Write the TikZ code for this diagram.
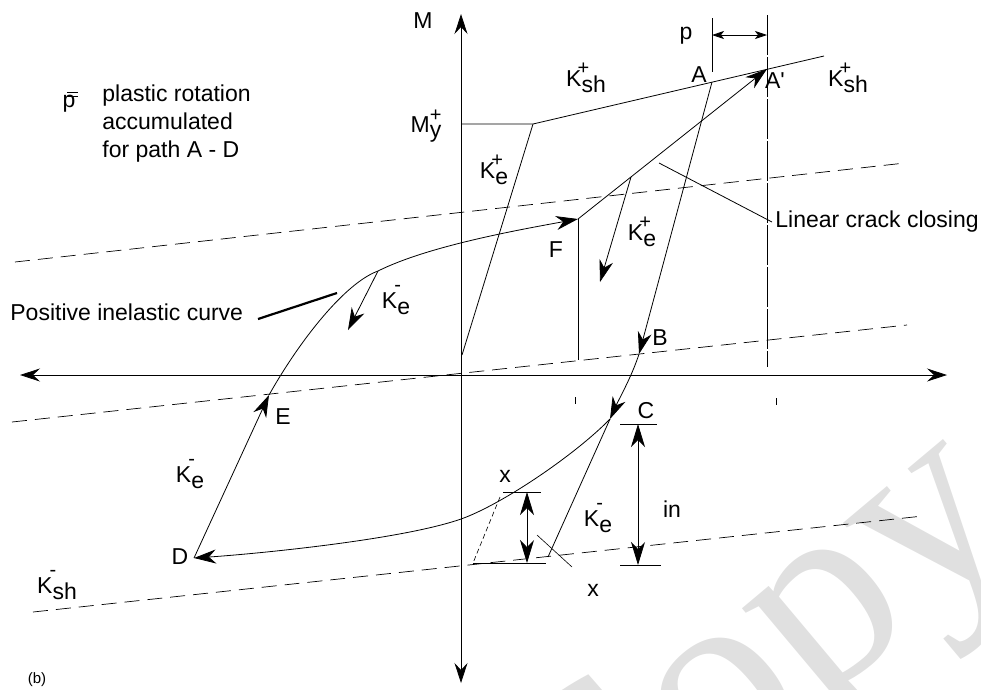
\documentclass[tikz,border=0pt]{standalone}
\usepackage{fontspec}
\setmainfont{Liberation Sans}
\newfontfamily\wmfont{Liberation Serif}
\usetikzlibrary{arrows.meta}
\newcommand\Kp[1]{K\rlap{\kern-4pt\raisebox{12pt}{\fontsize{20}{20}\selectfont +}}\raisebox{-6pt}{#1}}
\newcommand\Km[1]{K\rlap{\kern-3pt\raisebox{17pt}{\fontsize{20}{20}\selectfont -}}\raisebox{-6pt}{#1}}
\begin{document}
\begin{tikzpicture}[x=1pt,y=-1pt,line width=0.8pt,
  lbl/.style={inner sep=0pt,font=\fontsize{23}{28}\selectfont},
  arr/.style={-{Stealth[length=22pt,width=14pt,inset=7pt]}},
  darr/.style={{Stealth[length=23pt,width=14pt,inset=7pt]}-{Stealth[length=23pt,width=14pt,inset=7pt]}},
  axisline/.style={{Stealth[length=20pt,width=13pt,inset=7pt]}-{Stealth[length=20pt,width=13pt,inset=7pt]}},
  parr/.style={{Stealth[length=12pt,width=8pt,inset=3pt]}-{Stealth[length=12pt,width=8pt,inset=3pt]}},
  dsh/.style={dash pattern=on 15pt off 8pt,line width=0.7pt},
  dashdot/.style={dash pattern=on 40pt off 2pt,line width=0.7pt},
  fine/.style={line width=0.6pt}]
\useasboundingbox (0,0) rectangle (981,689);
% watermark
\begin{scope}
\clip (0,0) rectangle (981,689);
\node[text=black!12,rotate=40,anchor=base,inner sep=0pt,font=\wmfont\fontsize{270}{270}\selectfont] (wm) at (800,722) {Copy};
\end{scope}
% coordinates
\coordinate (O) at (461,375);
\coordinate (Mtop) at (461,14);
\coordinate (Mbot) at (461,683);
\coordinate (Hl) at (20,375);
\coordinate (Hr) at (947,375);
\coordinate (My0) at (461,124);
\coordinate (Y) at (533,124);
\coordinate (KeB) at (462,355);
\coordinate (A) at (712,82);
\coordinate (KshEnd) at (824,56);
\coordinate (Ap) at (767,69);
\coordinate (B) at (639,354);
\coordinate (C) at (610,419);
\coordinate (D) at (194,558);
\coordinate (E) at (269,395);
\coordinate (F) at (578,219);
\coordinate (Q) at (378,271);
\coordinate (R) at (461,519);
% dashed lines
\draw[dsh] (15,262) -- (905,163);
\draw[dsh] (12,422) -- (907,325);
\draw[dsh] (33,612) -- (923,516);
% axes
\draw[axisline] (Mbot) -- (Mtop);
\draw[axisline] (Hl) -- (Hr);
% positive envelope
\draw (My0) -- (Y) -- (KshEnd);
\draw (Y) -- (KeB);
% dimension p
\draw (712,18) -- (712,72);
\draw[dashdot] (767,15) -- (767,367);
\draw[parr] (712,35) -- (767,35);
% path A-B-C-D-E-F-A'
\draw[arr] (A) -- (B);
\draw[arr] (B) .. controls (632,376) and (619,399) .. (C);
\draw[arr] (C) .. controls (575,455) and (501,505) .. (R) .. controls (401,540) and (254,554) .. (D);
\draw[arr] (D) -- (E);
\draw[arr] (E) .. controls (300,340) and (345,283) .. (Q) .. controls (428,246) and (518,230) .. (F);
\draw[arr] (F) -- (Ap);
\draw (F) -- (578,360);
% unloading arrows
\draw[arr] (631,177) -- (600,282);
\draw[arr] (Q) -- (348,330);
% pointers
\draw (659,163) -- (772,222);
\draw[line width=2.2pt] (258,319) -- (337,293);
% lower construction
\draw (C) -- (548,557);
\draw[fine] (537,535) -- (572,567);
\draw[fine,dash pattern=on 5pt off 3pt] (500,497) -- (473,563);
\draw (473,563) -- (546,563);
\draw (503,492) -- (541,492);
\draw[darr] (527,492) -- (527,563);
\draw (620,424) -- (657,424);
\draw (620,565) -- (661,565);
\draw[darr] (638,424) -- (638,565);
% tick marks
\draw (575,397) -- (575,404);
\draw (776,398) -- (776,405);
% p-bar symbol
\draw[fine] (67,92) -- (78,92);
\draw[fine] (67,96) -- (78,96);
\node[lbl,anchor=base] (pbar) at (69,107) {p};
\node[lbl,anchor=base west] (t1) at (102,101) {plastic rotation};
\node[lbl,anchor=base west] (t2) at (102,129) {accumulated};
\node[lbl,anchor=base west] (t3) at (102,157) {for path A - D};
% labels
\node[lbl] (lM) at (423,21) {M};
\node[lbl] (lMy) at (426,126) {M\rlap{\raisebox{11pt}{\fontsize{20}{20}\selectfont +}}\raisebox{-5pt}{y}};
\node[lbl] (lKe1) at (494,170) {\Kp{e}};
\node[lbl] (lKsh1) at (586,78) {\Kp{sh}};
\node[lbl] (lA) at (699,75) {A};
\node[lbl] (lAp) at (775,81) {A\textquotesingle};
\node[lbl] (lKsh2) at (848,78) {\Kp{sh}};
\node[lbl] (lp) at (686,36) {p};
\node[lbl] (lF) at (556,250) {F};
\node[lbl] (lKe2) at (642,232) {\Kp{e}};
\node[lbl,anchor=west] (lLcc) at (775,222) {Linear crack closing};
\node[lbl] (lKe3) at (396,300) {\Km{e}};
\node[lbl,anchor=west] (lPic) at (10,312) {Positive inelastic curve};
\node[lbl] (lB) at (660,338) {B};
\node[lbl] (lC) at (646,411) {C};
\node[lbl] (lE) at (283,417) {E};
\node[lbl] (lKe4) at (190,474) {\Km{e}};
\node[lbl] (lD) at (180,557) {D};
\node[lbl] (lx1) at (505,476) {x};
\node[lbl] (lx2) at (593,590) {x};
\node[lbl] (lKe5) at (598,518) {\Km{e}};
\node[lbl] (lin) at (672,509) {in};
\node[lbl] (lKsh3) at (57,585) {\Km{sh}};
\node[inner sep=0pt,font=\fontsize{15}{18}\selectfont] (lb) at (37,680) {(b)};
\end{tikzpicture}
\end{document}
